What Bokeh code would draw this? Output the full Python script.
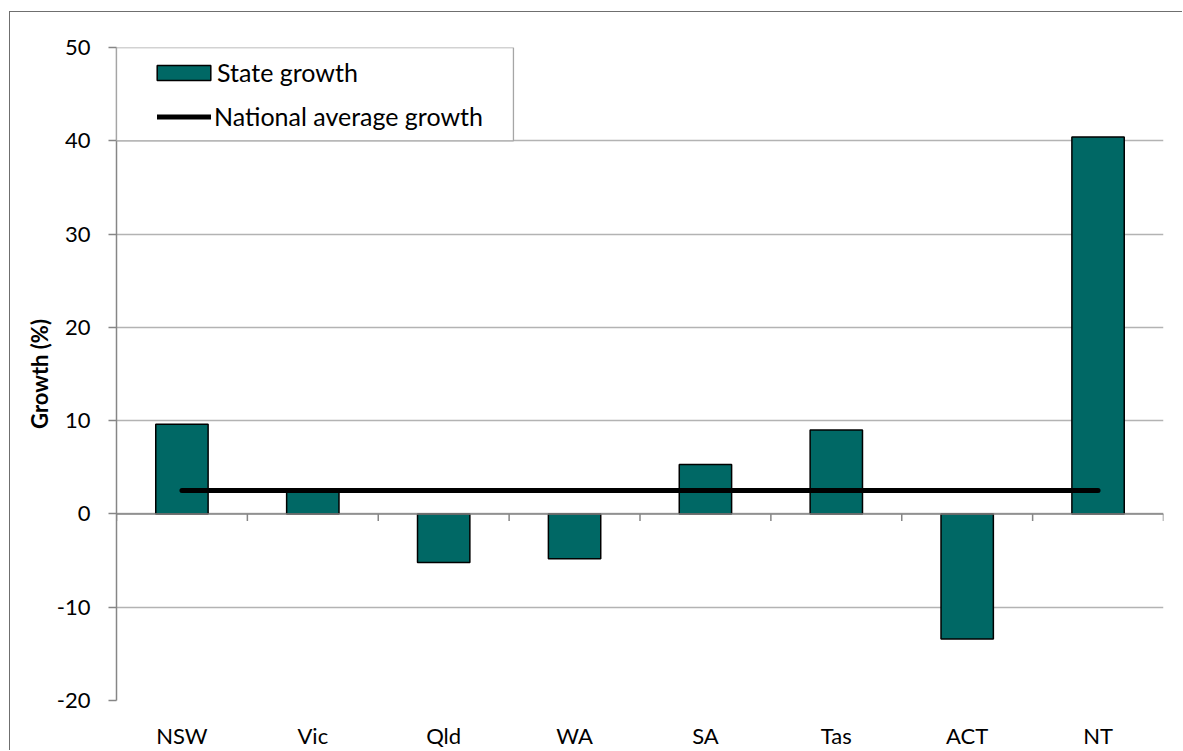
from bokeh.plotting import figure
from bokeh.models import Range1d, FixedTicker, Legend, LegendItem, BoxAnnotation, Span
from bokeh.embed import file_html
from bokeh.resources import INLINE

states = ["NSW", "Vic", "Qld", "WA", "SA", "Tas", "ACT", "NT"]
growth = [9.6, 2.4, -5.2, -4.8, 5.3, 9.0, -13.4, 40.4]
national_avg = 2.5
y_ticks = [-20, -10, 0, 10, 20, 30, 40, 50]
y_tick_labels = ["-20", "-10", "0", "10", "20", "30", "40", "50"]

FONT = "Lato"
TEAL = "#006865"
AXIS = "#868686"
GRID = "#b3b3b3"

xs = [i + 0.5 for i in range(len(states))]
bounds = list(range(len(states) + 1))

p = figure(width=1173, height=739, output_backend="svg", toolbar_location=None,
           x_range=Range1d(0, len(states)), y_range=Range1d(-20, 50),
           min_border_left=106, min_border_top=35, min_border_right=20,
           min_border_bottom=51)
p.styles = {"border-left": "1px solid #6f6f6f", "border-top": "1px solid #6f6f6f",
            "margin-left": "9px", "margin-top": "11px"}
p.outline_line_color = None
p.background_fill_color = "white"
p.border_fill_color = "white"

# grid
p.xgrid.visible = False
p.ygrid.ticker = FixedTicker(ticks=y_ticks)
p.ygrid.grid_line_color = GRID
p.ygrid.grid_line_width = 1.3

# bars
r_bar = p.vbar(x=xs, top=growth, bottom=0, width=0.4, fill_color=TEAL,
               line_color="black", line_width=1.5)

# zero axis line + category ticks
p.add_layout(Span(location=0, dimension="width", line_color=AXIS, line_width=1.5))
p.segment(x0=bounds, y0=[0] * len(bounds), x1=bounds, y1=[-0.75] * len(bounds),
          line_color=AXIS, line_width=1.5)

# national average
r_line = p.line(x=xs, y=[national_avg] * len(states), line_color="black",
                line_width=5, line_cap="round")

# y axis
yax = p.yaxis[0]
yax.ticker = FixedTicker(ticks=y_ticks)
yax.major_label_overrides = {t: s for t, s in zip(y_ticks, y_tick_labels)}
yax.axis_line_color = AXIS
yax.axis_line_width = 1.5
yax.major_tick_line_color = AXIS
yax.major_tick_line_width = 1.5
yax.major_tick_out = 8
yax.major_tick_in = 0
yax.minor_tick_line_color = None
yax.major_label_text_font = FONT
yax.major_label_text_font_size = "22px"
yax.major_label_text_color = "black"
yax.major_label_standoff = 18
yax.axis_label = "Growth (%)"
yax.axis_label_text_font = FONT
yax.axis_label_text_font_size = "22px"
yax.axis_label_text_font_style = "bold"
yax.axis_label_text_color = "black"
yax.axis_label_standoff = 1

# x axis (labels only)
xax = p.xaxis[0]
xax.ticker = FixedTicker(ticks=xs)
xax.major_label_overrides = {x: s for x, s in zip(xs, states)}
xax.axis_line_color = None
xax.major_tick_line_color = None
xax.major_tick_out = 0
xax.major_tick_in = 0
xax.minor_tick_line_color = None
xax.major_label_text_font = FONT
xax.major_label_text_font_size = "22px"
xax.major_label_text_color = "black"
xax.major_label_standoff = 21

# legend box
p.add_layout(BoxAnnotation(left=0, right=3.033, bottom=40, top=50,
                           fill_color="white", fill_alpha=1.0,
                           line_color="#a6a6a6", line_width=1.3, line_alpha=1.0))

common = dict(padding=0, margin=0, spacing=0, label_height=30,
              label_text_font=FONT, label_text_font_size="25px",
              label_text_color="black", border_line_color=None,
              background_fill_alpha=0)
legend_bar = Legend(items=[LegendItem(label="State growth", renderers=[r_bar])],
                    location=(34, 613), glyph_width=67, glyph_height=19,
                    label_standoff=-3, **common)
legend_line = Legend(items=[LegendItem(label="National average growth", renderers=[r_line])],
                     location=(41, 569), glyph_width=54, glyph_height=19,
                     label_standoff=3, **common)
p.add_layout(legend_bar, "center")
p.add_layout(legend_line, "center")

open("out.html", "w").write(file_html(p, INLINE))
